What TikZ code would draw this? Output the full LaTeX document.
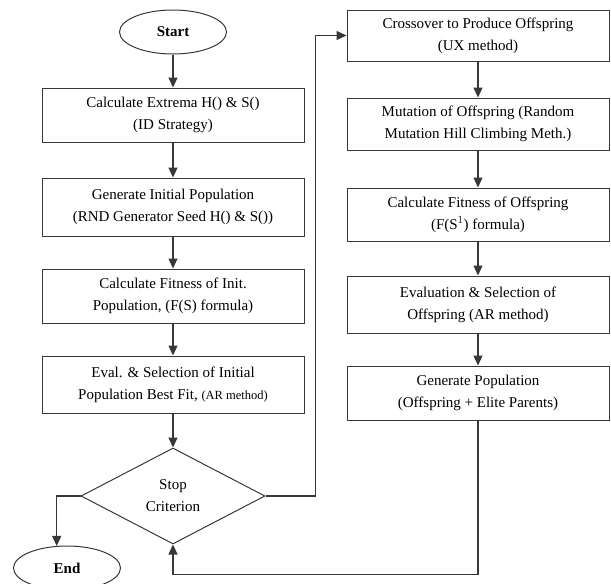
\documentclass[tikz,border=0pt]{standalone}
\usepackage{fontspec}
\setmainfont{Liberation Serif}
\usepackage{tikz}
\usetikzlibrary{arrows.meta,positioning,shapes.geometric}
\colorlet{linec}{black!78}
\begin{document}
\begin{tikzpicture}[x=1pt,y=1pt,node distance=34pt,
  every node/.style={font=\fontsize{15}{22}\selectfont,align=center},
  stepbox/.style={draw=linec,line width=1pt,minimum width=262pt,minimum height=54pt,inner sep=2pt},
  term/.style={draw=linec,line width=1pt,ellipse,minimum width=107pt,minimum height=44pt,inner sep=0pt,font=\fontsize{15}{22}\selectfont\bfseries},
  decide/.style={draw=linec,line width=1pt,diamond,aspect=1.9,minimum width=184pt,minimum height=96pt,inner sep=0pt},
  arr/.style={-{Triangle[length=10pt,width=9pt]},line width=1.2pt,draw=linec}]
\useasboundingbox (0,0) rectangle (611,-584);
% left column
\node[term] (start) at (173,-32) {Start};
\node[stepbox,below=33pt of start] (extr) {Calculate Extrema H() \& S()\\(ID Strategy)};
\node[stepbox,below=35pt of extr,minimum height=58pt] (init) {Generate Initial Population\\(RND Generator Seed H() \& S())};
\node[stepbox,below=32pt of init] (fit) {Calculate Fitness of Init.\\Population, (F(S) formula)};
\node[stepbox,below=32pt of fit,minimum height=57pt] (sel) {Eval. \& Selection of Initial\\Population Best Fit, {\fontsize{12.5}{22}\selectfont(AR method)}};
\node[decide,below=34pt of sel] (stop) {Stop\\Criterion};
\node[term] (end) at (67,-568) {End};
% right column
\node[stepbox,minimum height=51pt] (cross) at (478,-35.5) {Crossover to Produce Offspring\\(UX method)};
\node[stepbox,below=36pt of cross,minimum height=52pt] (mut) {Mutation of Offspring (Random\\Mutation Hill Climbing Meth.)};
\node[stepbox,below=37pt of mut,minimum height=53pt] (ofit) {Calculate Fitness of Offspring\\(F(S$^1$) formula)};
\node[stepbox,below=34pt of ofit,minimum height=57pt] (osel) {Evaluation \& Selection of\\Offspring (AR method)};
\node[stepbox,below=32pt of osel] (gen) {Generate Population\\(Offspring + Elite Parents)};
% connectors
\draw[arr] (start) -- (extr);
\draw[arr] (extr) -- (init);
\draw[arr] (init) -- (fit);
\draw[arr] (fit) -- (sel);
\draw[arr] (sel) -- (stop);
\draw[arr] (stop.west) -| (end.115);
\draw[arr] (stop.east) -- ++(50,0) |- (cross.west);
\draw[arr] (cross) -- (mut);
\draw[arr] (mut) -- (ofit);
\draw[arr] (ofit) -- (osel);
\draw[arr] (osel) -- (gen);
\draw[arr] (gen.south) -- ++(0,-154) -| (stop.south);
\end{tikzpicture}
\end{document}
